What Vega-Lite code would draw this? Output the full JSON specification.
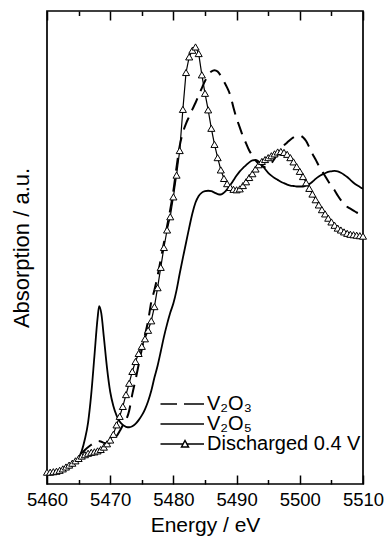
{
  "$schema": "https://vega.github.io/schema/vega-lite/v6.json",
  "width": 316,
  "height": 473,
  "autosize": {"type": "none"},
  "padding": {"left": 47, "top": 11, "right": 22, "bottom": 54},
  "background": "white",
  "config": {
    "view": {"stroke": "black", "strokeWidth": 1.7},
    "font": "Liberation Sans",
    "axis": {"labelFont": "Liberation Sans", "titleFont": "Liberation Sans", "labelColor": "black", "titleColor": "black", "titleFontWeight": "normal", "grid": false},
    "legend": {"labelFont": "Liberation Sans", "labelColor": "black"}
  },
  "data": {"values": [
    {"s":"V₂O₃","e":5460,"a":0.024},{"s":"V₂O₃","e":5461,"a":0.025},{"s":"V₂O₃","e":5462,"a":0.028},{"s":"V₂O₃","e":5463,"a":0.033},{"s":"V₂O₃","e":5464,"a":0.042},{"s":"V₂O₃","e":5465,"a":0.056},{"s":"V₂O₃","e":5466,"a":0.072},{"s":"V₂O₃","e":5467,"a":0.083},{"s":"V₂O₃","e":5467.5,"a":0.088},{"s":"V₂O₃","e":5468,"a":0.091},{"s":"V₂O₃","e":5468.5,"a":0.09},{"s":"V₂O₃","e":5469,"a":0.087},{"s":"V₂O₃","e":5469.5,"a":0.086},{"s":"V₂O₃","e":5470,"a":0.088},{"s":"V₂O₃","e":5470.5,"a":0.093},{"s":"V₂O₃","e":5471,"a":0.101},{"s":"V₂O₃","e":5471.5,"a":0.112},{"s":"V₂O₃","e":5472,"a":0.124},{"s":"V₂O₃","e":5472.5,"a":0.135},{"s":"V₂O₃","e":5473,"a":0.155},{"s":"V₂O₃","e":5473.5,"a":0.19},{"s":"V₂O₃","e":5474,"a":0.22},{"s":"V₂O₃","e":5474.5,"a":0.252},{"s":"V₂O₃","e":5475,"a":0.285},{"s":"V₂O₃","e":5475.5,"a":0.315},{"s":"V₂O₃","e":5476,"a":0.345},{"s":"V₂O₃","e":5476.5,"a":0.385},{"s":"V₂O₃","e":5477,"a":0.41},{"s":"V₂O₃","e":5477.5,"a":0.44},{"s":"V₂O₃","e":5478,"a":0.475},{"s":"V₂O₃","e":5478.5,"a":0.51},{"s":"V₂O₃","e":5479,"a":0.545},{"s":"V₂O₃","e":5479.5,"a":0.58},{"s":"V₂O₃","e":5480,"a":0.62},{"s":"V₂O₃","e":5480.5,"a":0.67},{"s":"V₂O₃","e":5481,"a":0.715},{"s":"V₂O₃","e":5481.5,"a":0.743},{"s":"V₂O₃","e":5482,"a":0.762},{"s":"V₂O₃","e":5482.5,"a":0.777},{"s":"V₂O₃","e":5483,"a":0.792},{"s":"V₂O₃","e":5483.5,"a":0.806},{"s":"V₂O₃","e":5484,"a":0.822},{"s":"V₂O₃","e":5484.5,"a":0.837},{"s":"V₂O₃","e":5485,"a":0.852},{"s":"V₂O₃","e":5485.5,"a":0.864},{"s":"V₂O₃","e":5486,"a":0.872},{"s":"V₂O₃","e":5486.5,"a":0.875},{"s":"V₂O₃","e":5487,"a":0.872},{"s":"V₂O₃","e":5487.5,"a":0.863},{"s":"V₂O₃","e":5488,"a":0.851},{"s":"V₂O₃","e":5488.5,"a":0.838},{"s":"V₂O₃","e":5489,"a":0.822},{"s":"V₂O₃","e":5489.5,"a":0.796},{"s":"V₂O₃","e":5490,"a":0.773},{"s":"V₂O₃","e":5490.5,"a":0.754},{"s":"V₂O₃","e":5491,"a":0.735},{"s":"V₂O₃","e":5491.5,"a":0.72},{"s":"V₂O₃","e":5492,"a":0.705},{"s":"V₂O₃","e":5492.5,"a":0.694},{"s":"V₂O₃","e":5493,"a":0.684},{"s":"V₂O₃","e":5493.5,"a":0.677},{"s":"V₂O₃","e":5494,"a":0.672},{"s":"V₂O₃","e":5494.5,"a":0.67},{"s":"V₂O₃","e":5495,"a":0.672},{"s":"V₂O₃","e":5495.5,"a":0.678},{"s":"V₂O₃","e":5496,"a":0.688},{"s":"V₂O₃","e":5496.5,"a":0.698},{"s":"V₂O₃","e":5497,"a":0.708},{"s":"V₂O₃","e":5497.5,"a":0.716},{"s":"V₂O₃","e":5498,"a":0.722},{"s":"V₂O₃","e":5498.5,"a":0.728},{"s":"V₂O₃","e":5499,"a":0.733},{"s":"V₂O₃","e":5499.5,"a":0.736},{"s":"V₂O₃","e":5500,"a":0.737},{"s":"V₂O₃","e":5500.5,"a":0.733},{"s":"V₂O₃","e":5501,"a":0.725},{"s":"V₂O₃","e":5501.5,"a":0.712},{"s":"V₂O₃","e":5502,"a":0.698},{"s":"V₂O₃","e":5502.5,"a":0.686},{"s":"V₂O₃","e":5503,"a":0.673},{"s":"V₂O₃","e":5503.5,"a":0.662},{"s":"V₂O₃","e":5504,"a":0.651},{"s":"V₂O₃","e":5504.5,"a":0.64},{"s":"V₂O₃","e":5505,"a":0.63},{"s":"V₂O₃","e":5505.5,"a":0.621},{"s":"V₂O₃","e":5506,"a":0.61},{"s":"V₂O₃","e":5506.5,"a":0.6},{"s":"V₂O₃","e":5507,"a":0.592},{"s":"V₂O₃","e":5507.5,"a":0.586},{"s":"V₂O₃","e":5508,"a":0.582},{"s":"V₂O₃","e":5508.5,"a":0.578},{"s":"V₂O₃","e":5509,"a":0.574},{"s":"V₂O₃","e":5509.5,"a":0.571},{"s":"V₂O₃","e":5510,"a":0.568},
    {"s":"V₂O₅","e":5460,"a":0.024},{"s":"V₂O₅","e":5461,"a":0.025},{"s":"V₂O₅","e":5462,"a":0.027},{"s":"V₂O₅","e":5463,"a":0.031},{"s":"V₂O₅","e":5464,"a":0.038},{"s":"V₂O₅","e":5464.5,"a":0.045},{"s":"V₂O₅","e":5465,"a":0.055},{"s":"V₂O₅","e":5465.5,"a":0.07},{"s":"V₂O₅","e":5466,"a":0.095},{"s":"V₂O₅","e":5466.5,"a":0.13},{"s":"V₂O₅","e":5467,"a":0.19},{"s":"V₂O₅","e":5467.5,"a":0.27},{"s":"V₂O₅","e":5468,"a":0.35},{"s":"V₂O₅","e":5468.25,"a":0.376},{"s":"V₂O₅","e":5468.6,"a":0.36},{"s":"V₂O₅","e":5469,"a":0.31},{"s":"V₂O₅","e":5469.5,"a":0.245},{"s":"V₂O₅","e":5470,"a":0.195},{"s":"V₂O₅","e":5470.5,"a":0.165},{"s":"V₂O₅","e":5471,"a":0.145},{"s":"V₂O₅","e":5471.5,"a":0.132},{"s":"V₂O₅","e":5472,"a":0.125},{"s":"V₂O₅","e":5472.5,"a":0.121},{"s":"V₂O₅","e":5473,"a":0.12},{"s":"V₂O₅","e":5473.5,"a":0.122},{"s":"V₂O₅","e":5474,"a":0.127},{"s":"V₂O₅","e":5474.5,"a":0.135},{"s":"V₂O₅","e":5475,"a":0.145},{"s":"V₂O₅","e":5475.5,"a":0.158},{"s":"V₂O₅","e":5476,"a":0.175},{"s":"V₂O₅","e":5476.5,"a":0.197},{"s":"V₂O₅","e":5477,"a":0.225},{"s":"V₂O₅","e":5477.5,"a":0.25},{"s":"V₂O₅","e":5478,"a":0.28},{"s":"V₂O₅","e":5478.5,"a":0.311},{"s":"V₂O₅","e":5479,"a":0.338},{"s":"V₂O₅","e":5479.5,"a":0.362},{"s":"V₂O₅","e":5480,"a":0.382},{"s":"V₂O₅","e":5480.5,"a":0.41},{"s":"V₂O₅","e":5481,"a":0.445},{"s":"V₂O₅","e":5481.5,"a":0.478},{"s":"V₂O₅","e":5482,"a":0.51},{"s":"V₂O₅","e":5482.5,"a":0.542},{"s":"V₂O₅","e":5483,"a":0.572},{"s":"V₂O₅","e":5483.5,"a":0.595},{"s":"V₂O₅","e":5484,"a":0.609},{"s":"V₂O₅","e":5484.5,"a":0.616},{"s":"V₂O₅","e":5485,"a":0.619},{"s":"V₂O₅","e":5485.5,"a":0.62},{"s":"V₂O₅","e":5486,"a":0.619},{"s":"V₂O₅","e":5486.5,"a":0.616},{"s":"V₂O₅","e":5487,"a":0.613},{"s":"V₂O₅","e":5487.5,"a":0.612},{"s":"V₂O₅","e":5488,"a":0.616},{"s":"V₂O₅","e":5488.5,"a":0.623},{"s":"V₂O₅","e":5489,"a":0.632},{"s":"V₂O₅","e":5489.5,"a":0.642},{"s":"V₂O₅","e":5490,"a":0.652},{"s":"V₂O₅","e":5490.5,"a":0.661},{"s":"V₂O₅","e":5491,"a":0.668},{"s":"V₂O₅","e":5491.5,"a":0.674},{"s":"V₂O₅","e":5492,"a":0.68},{"s":"V₂O₅","e":5492.5,"a":0.684},{"s":"V₂O₅","e":5493,"a":0.685},{"s":"V₂O₅","e":5493.5,"a":0.682},{"s":"V₂O₅","e":5494,"a":0.675},{"s":"V₂O₅","e":5494.5,"a":0.666},{"s":"V₂O₅","e":5495,"a":0.658},{"s":"V₂O₅","e":5495.5,"a":0.652},{"s":"V₂O₅","e":5496,"a":0.647},{"s":"V₂O₅","e":5496.5,"a":0.643},{"s":"V₂O₅","e":5497,"a":0.639},{"s":"V₂O₅","e":5497.5,"a":0.636},{"s":"V₂O₅","e":5498,"a":0.633},{"s":"V₂O₅","e":5498.5,"a":0.631},{"s":"V₂O₅","e":5499,"a":0.63},{"s":"V₂O₅","e":5499.5,"a":0.629},{"s":"V₂O₅","e":5500,"a":0.629},{"s":"V₂O₅","e":5500.5,"a":0.629},{"s":"V₂O₅","e":5501,"a":0.631},{"s":"V₂O₅","e":5501.5,"a":0.634},{"s":"V₂O₅","e":5502,"a":0.639},{"s":"V₂O₅","e":5502.5,"a":0.645},{"s":"V₂O₅","e":5503,"a":0.65},{"s":"V₂O₅","e":5503.5,"a":0.654},{"s":"V₂O₅","e":5504,"a":0.657},{"s":"V₂O₅","e":5504.5,"a":0.66},{"s":"V₂O₅","e":5505,"a":0.661},{"s":"V₂O₅","e":5505.5,"a":0.662},{"s":"V₂O₅","e":5506,"a":0.661},{"s":"V₂O₅","e":5506.5,"a":0.658},{"s":"V₂O₅","e":5507,"a":0.654},{"s":"V₂O₅","e":5507.5,"a":0.649},{"s":"V₂O₅","e":5508,"a":0.643},{"s":"V₂O₅","e":5508.5,"a":0.637},{"s":"V₂O₅","e":5509,"a":0.632},{"s":"V₂O₅","e":5509.5,"a":0.628},{"s":"V₂O₅","e":5510,"a":0.624},
    {"s":"Discharged 0.4 V","e":5460,"a":0.025},{"s":"Discharged 0.4 V","e":5460.5,"a":0.025},{"s":"Discharged 0.4 V","e":5461,"a":0.026},{"s":"Discharged 0.4 V","e":5461.5,"a":0.027},{"s":"Discharged 0.4 V","e":5462,"a":0.029},{"s":"Discharged 0.4 V","e":5462.5,"a":0.032},{"s":"Discharged 0.4 V","e":5463,"a":0.036},{"s":"Discharged 0.4 V","e":5463.5,"a":0.04},{"s":"Discharged 0.4 V","e":5464,"a":0.044},{"s":"Discharged 0.4 V","e":5464.5,"a":0.049},{"s":"Discharged 0.4 V","e":5465,"a":0.054},{"s":"Discharged 0.4 V","e":5465.5,"a":0.059},{"s":"Discharged 0.4 V","e":5466,"a":0.062},{"s":"Discharged 0.4 V","e":5466.5,"a":0.065},{"s":"Discharged 0.4 V","e":5467,"a":0.067},{"s":"Discharged 0.4 V","e":5467.5,"a":0.068},{"s":"Discharged 0.4 V","e":5468,"a":0.07},{"s":"Discharged 0.4 V","e":5468.5,"a":0.073},{"s":"Discharged 0.4 V","e":5469,"a":0.078},{"s":"Discharged 0.4 V","e":5469.5,"a":0.085},{"s":"Discharged 0.4 V","e":5470,"a":0.093},{"s":"Discharged 0.4 V","e":5470.5,"a":0.105},{"s":"Discharged 0.4 V","e":5471,"a":0.125},{"s":"Discharged 0.4 V","e":5471.5,"a":0.143},{"s":"Discharged 0.4 V","e":5472,"a":0.164},{"s":"Discharged 0.4 V","e":5472.5,"a":0.189},{"s":"Discharged 0.4 V","e":5473,"a":0.213},{"s":"Discharged 0.4 V","e":5473.5,"a":0.238},{"s":"Discharged 0.4 V","e":5474,"a":0.259},{"s":"Discharged 0.4 V","e":5474.5,"a":0.276},{"s":"Discharged 0.4 V","e":5475,"a":0.291},{"s":"Discharged 0.4 V","e":5475.5,"a":0.307},{"s":"Discharged 0.4 V","e":5476,"a":0.325},{"s":"Discharged 0.4 V","e":5476.5,"a":0.345},{"s":"Discharged 0.4 V","e":5477,"a":0.375},{"s":"Discharged 0.4 V","e":5477.5,"a":0.415},{"s":"Discharged 0.4 V","e":5478,"a":0.458},{"s":"Discharged 0.4 V","e":5478.5,"a":0.5},{"s":"Discharged 0.4 V","e":5479,"a":0.537},{"s":"Discharged 0.4 V","e":5479.5,"a":0.565},{"s":"Discharged 0.4 V","e":5480,"a":0.607},{"s":"Discharged 0.4 V","e":5480.5,"a":0.653},{"s":"Discharged 0.4 V","e":5481,"a":0.705},{"s":"Discharged 0.4 V","e":5481.5,"a":0.792},{"s":"Discharged 0.4 V","e":5482,"a":0.87},{"s":"Discharged 0.4 V","e":5482.5,"a":0.903},{"s":"Discharged 0.4 V","e":5483,"a":0.917},{"s":"Discharged 0.4 V","e":5483.5,"a":0.924},{"s":"Discharged 0.4 V","e":5484,"a":0.91},{"s":"Discharged 0.4 V","e":5484.5,"a":0.865},{"s":"Discharged 0.4 V","e":5485,"a":0.826},{"s":"Discharged 0.4 V","e":5485.5,"a":0.791},{"s":"Discharged 0.4 V","e":5486,"a":0.752},{"s":"Discharged 0.4 V","e":5486.5,"a":0.718},{"s":"Discharged 0.4 V","e":5487,"a":0.69},{"s":"Discharged 0.4 V","e":5487.5,"a":0.664},{"s":"Discharged 0.4 V","e":5488,"a":0.646},{"s":"Discharged 0.4 V","e":5488.5,"a":0.635},{"s":"Discharged 0.4 V","e":5489,"a":0.627},{"s":"Discharged 0.4 V","e":5489.5,"a":0.623},{"s":"Discharged 0.4 V","e":5490,"a":0.622},{"s":"Discharged 0.4 V","e":5490.5,"a":0.624},{"s":"Discharged 0.4 V","e":5491,"a":0.631},{"s":"Discharged 0.4 V","e":5491.5,"a":0.639},{"s":"Discharged 0.4 V","e":5492,"a":0.648},{"s":"Discharged 0.4 V","e":5492.5,"a":0.656},{"s":"Discharged 0.4 V","e":5493,"a":0.666},{"s":"Discharged 0.4 V","e":5493.5,"a":0.675},{"s":"Discharged 0.4 V","e":5494,"a":0.682},{"s":"Discharged 0.4 V","e":5494.5,"a":0.686},{"s":"Discharged 0.4 V","e":5495,"a":0.69},{"s":"Discharged 0.4 V","e":5495.5,"a":0.694},{"s":"Discharged 0.4 V","e":5496,"a":0.698},{"s":"Discharged 0.4 V","e":5496.5,"a":0.702},{"s":"Discharged 0.4 V","e":5497,"a":0.703},{"s":"Discharged 0.4 V","e":5497.5,"a":0.701},{"s":"Discharged 0.4 V","e":5498,"a":0.697},{"s":"Discharged 0.4 V","e":5498.5,"a":0.69},{"s":"Discharged 0.4 V","e":5499,"a":0.681},{"s":"Discharged 0.4 V","e":5499.5,"a":0.671},{"s":"Discharged 0.4 V","e":5500,"a":0.661},{"s":"Discharged 0.4 V","e":5500.5,"a":0.65},{"s":"Discharged 0.4 V","e":5501,"a":0.637},{"s":"Discharged 0.4 V","e":5501.5,"a":0.625},{"s":"Discharged 0.4 V","e":5502,"a":0.613},{"s":"Discharged 0.4 V","e":5502.5,"a":0.601},{"s":"Discharged 0.4 V","e":5503,"a":0.59},{"s":"Discharged 0.4 V","e":5503.5,"a":0.58},{"s":"Discharged 0.4 V","e":5504,"a":0.571},{"s":"Discharged 0.4 V","e":5504.5,"a":0.562},{"s":"Discharged 0.4 V","e":5505,"a":0.554},{"s":"Discharged 0.4 V","e":5505.5,"a":0.547},{"s":"Discharged 0.4 V","e":5506,"a":0.541},{"s":"Discharged 0.4 V","e":5506.5,"a":0.537},{"s":"Discharged 0.4 V","e":5507,"a":0.533},{"s":"Discharged 0.4 V","e":5507.5,"a":0.53},{"s":"Discharged 0.4 V","e":5508,"a":0.528},{"s":"Discharged 0.4 V","e":5508.5,"a":0.527},{"s":"Discharged 0.4 V","e":5509,"a":0.526},{"s":"Discharged 0.4 V","e":5509.5,"a":0.525},{"s":"Discharged 0.4 V","e":5510,"a":0.524}
  ]},
  "resolve": {"axis": {"x": "independent", "y": "independent"}},
  "layer": [
    {
      "transform": [{"filter": "datum.s == 'V₂O₃'"}],
      "mark": {"type": "line", "color": "black", "strokeWidth": 2, "strokeDash": [13, 8], "interpolate": "monotone", "clip": true},
      "encoding": {
        "x": {"field": "e", "type": "quantitative", "scale": {"domain": [5460, 5510], "nice": false, "zero": false},
          "axis": {"orient": "bottom", "values": [5460,5465,5470,5475,5480,5485,5490,5495,5500,5505,5510], "format": "d",
            "labelExpr": "datum.value % 10 == 0 ? datum.label : ''", "labelOverlap": false, "labelFlush": false,
            "tickSize": {"condition": {"test": "datum.value % 10 == 0", "value": -9}, "value": -4.5},
            "tickWidth": 1.5, "tickColor": "black", "domain": false, "labelFontSize": 18.5, "labelPadding": 15,
            "title": "Energy / eV", "titleFontSize": 21, "titlePadding": 1}},
        "y": {"field": "a", "type": "quantitative", "scale": {"domain": [0, 1], "nice": false},
          "axis": {"orient": "left", "title": "Absorption / a.u.", "labels": false, "ticks": false, "domain": false, "titleFontSize": 22, "titlePadding": 14}}
      }
    },
    {
      "transform": [{"filter": "datum.s == 'V₂O₅'"}],
      "mark": {"type": "line", "color": "black", "strokeWidth": 1.8, "interpolate": "monotone", "clip": true},
      "encoding": {
        "x": {"field": "e", "type": "quantitative", "axis": null},
        "y": {"field": "a", "type": "quantitative", "axis": null}
      }
    },
    {
      "transform": [{"filter": "datum.s == 'Discharged 0.4 V'"}],
      "mark": {"type": "line", "color": "black", "strokeWidth": 1.2, "clip": true},
      "encoding": {
        "x": {"field": "e", "type": "quantitative", "axis": null},
        "y": {"field": "a", "type": "quantitative", "axis": null}
      }
    },
    {
      "transform": [{"filter": "datum.s == 'Discharged 0.4 V'"}],
      "mark": {"type": "point", "shape": "triangle-up", "size": 50, "filled": false, "fill": "white", "fillOpacity": 1, "stroke": "black", "strokeWidth": 1, "opacity": 1},
      "encoding": {
        "x": {"field": "e", "type": "quantitative",
          "axis": {"orient": "top", "values": [5460,5465,5470,5475,5480,5485,5490,5495,5500,5505,5510], "labels": false,
            "tickSize": {"condition": {"test": "datum.value % 10 == 0", "value": -9}, "value": -4.5},
            "tickWidth": 1.5, "tickColor": "black", "domain": false, "title": null}},
        "y": {"field": "a", "type": "quantitative", "axis": null}
      }
    },
    {
      "mark": {"type": "point", "opacity": 0, "filled": false},
      "encoding": {
        "x": {"field": "e", "type": "quantitative", "axis": null},
        "y": {"field": "a", "type": "quantitative", "axis": null},
        "shape": {"field": "s", "type": "nominal",
          "scale": {"domain": ["V₂O₃", "V₂O₅", "Discharged 0.4 V"],
            "range": ["M-4.9,0H-1.6M-0.2,0H3.8", "M-4.9,0H3.8", "M-4.9,0H-0.38M0.38,0H3.8M-0.7,0.6L0,-0.7L0.7,0.6Z"]},
          "legend": {"title": null, "orient": "none", "legendX": 128, "legendY": 383, "padding": 0,
            "symbolSize": 100, "symbolStrokeWidth": 1.5, "symbolStrokeColor": "black", "symbolFillColor": "white", "symbolOpacity": 1,
            "labelFontSize": 20, "labelOffset": 12, "rowPadding": -1, "labelLimit": 300}}
      }
    }
  ]
}
